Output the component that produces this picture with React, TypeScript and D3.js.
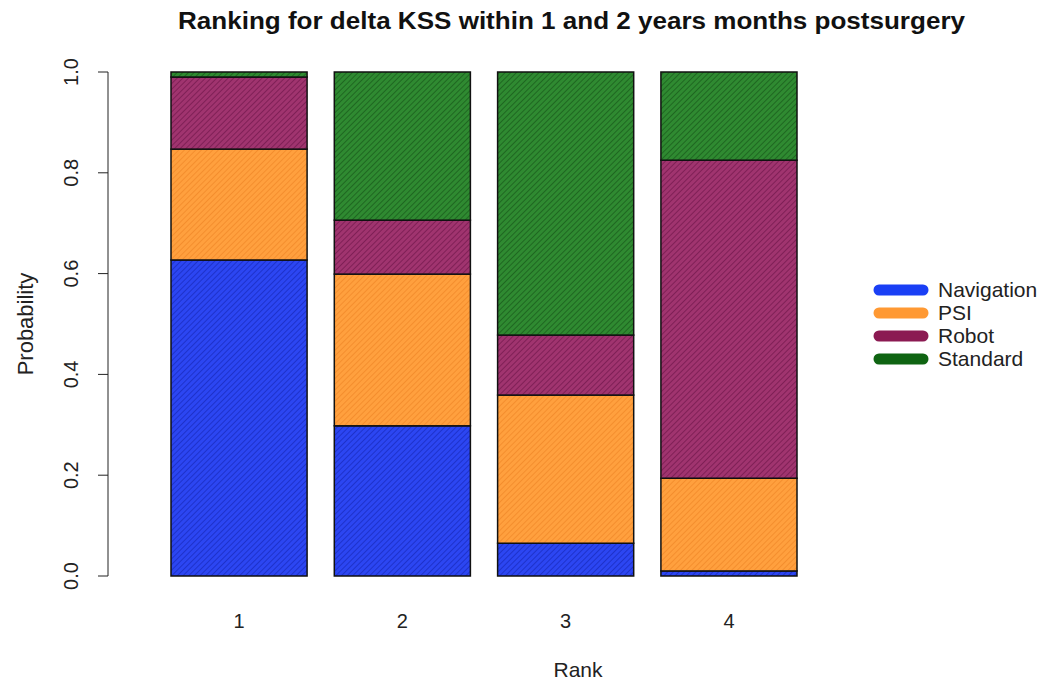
import React from "react";
import * as d3 from "d3";

const ranks = ["1", "2", "3", "4"];
const treatments = ["Navigation", "PSI", "Robot", "Standard"];
const navigation = [0.627, 0.298, 0.065, 0.01];
const psi = [0.22, 0.301, 0.294, 0.184];
const robot = [0.143, 0.107, 0.119, 0.631];
const standard = [0.01, 0.294, 0.522, 0.175];
const yTicks = [0, 0.2, 0.4, 0.6, 0.8, 1.0];

const seriesValues = [navigation, psi, robot, standard];
const baseColors = ["#2c46f2", "#ffa03e", "#a0346f", "#2f8a31"];
const stripeColors = ["#1a2dc2", "#f2892a", "#771a4f", "#1b5e1d"];
const legendColors = ["#1a3ff5", "#ff9933", "#8b1a52", "#0f6412"];

const W = 1041;
const H = 684;
const FONT = "'Liberation Sans', Arial, Helvetica, sans-serif";

export default function App() {
  const x = d3.scaleBand<string>().domain(ranks).range([171, 797]).paddingInner(1 / 6).paddingOuter(0);
  const y = d3.scaleLinear().domain([0, 1]).range([576, 72]);

  const table = ranks.map((r, i) => {
    const row: any = { rank: r };
    treatments.forEach((t, k) => (row[t] = seriesValues[k][i]));
    return row;
  });
  const stacked = d3.stack<any>().keys(treatments)(table);

  return (
    <svg width={W} height={H} style={{ position: "absolute", left: 0, top: 0, background: "#fff" }} fontFamily={FONT}>
      <defs>
        {treatments.map((t, k) => (
          <pattern key={t} id={`hatch${k}`} patternUnits="userSpaceOnUse" width={4} height={4} patternTransform="rotate(45)">
            <rect width={4} height={4} fill={baseColors[k]} />
            <line x1={0} y1={0} x2={0} y2={4} stroke={stripeColors[k]} strokeWidth={1.6} />
          </pattern>
        ))}
      </defs>
      <rect width={W} height={H} fill="#fff" />
      <text
        x={571.5}
        y={29}
        textAnchor="middle"
        fontWeight="bold"
        fontSize={23}
        fill="#111"
        textLength={787}
        lengthAdjust="spacingAndGlyphs"
      >
        Ranking for delta KSS within 1 and 2 years months postsurgery
      </text>
      {stacked.map((s, k) => (
        <g key={s.key}>
          {s.map((d, i) => (
            <rect
              key={i}
              x={x(ranks[i])}
              y={y(d[1])}
              width={x.bandwidth()}
              height={Math.max(0, y(d[0]) - y(d[1]))}
              fill={`url(#hatch${k})`}
              stroke="#111"
              strokeWidth={1.5}
            />
          ))}
        </g>
      ))}
      {/* y axis */}
      <line x1={108} x2={108} y1={y(0)} y2={y(1)} stroke="#222" strokeWidth={1} />
      {yTicks.map((t) => (
        <g key={t}>
          <line x1={98} x2={108} y1={y(t)} y2={y(t)} stroke="#222" strokeWidth={1} />
          <text
            transform={`translate(78,${y(t)}) rotate(-90)`}
            textAnchor="middle"
            fontSize={20}
            fill="#222"
          >
            {t.toFixed(1)}
          </text>
        </g>
      ))}
      <text transform={`translate(33,${y(0.5)}) rotate(-90)`} textAnchor="middle" fontSize={22} fill="#222">
        Probability
      </text>
      {ranks.map((r) => (
        <text key={r} x={(x(r) as number) + x.bandwidth() / 2} y={628} textAnchor="middle" fontSize={20} fill="#222">
          {r}
        </text>
      ))}
      <text x={578} y={677} textAnchor="middle" fontSize={21} fill="#222">
        Rank
      </text>
      {/* legend */}
      {treatments.map((t, k) => (
        <g key={t} transform={`translate(0,${290 + k * 23})`}>
          <line x1={879} x2={923} y1={0} y2={0} stroke={legendColors[k]} strokeWidth={11} strokeLinecap="round" />
          <text x={938} y={7} fontSize={21} fill="#222">
            {t}
          </text>
        </g>
      ))}
    </svg>
  );
}
